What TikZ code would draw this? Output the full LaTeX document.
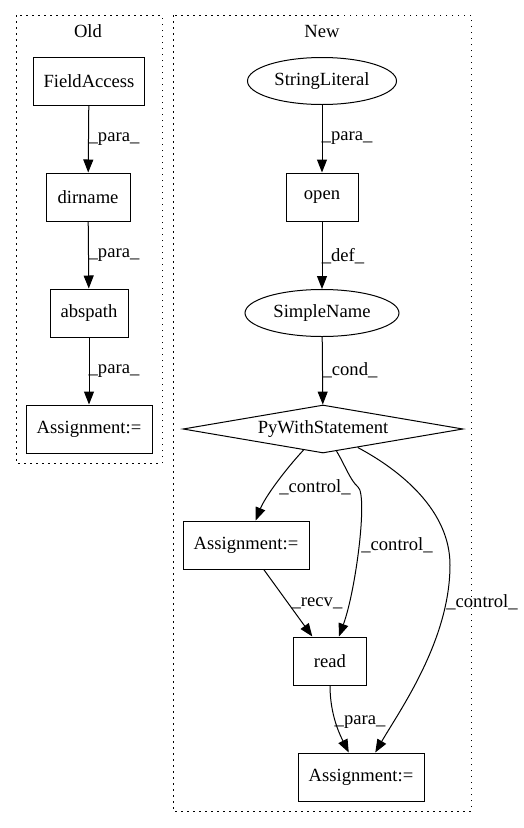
\documentclass[tikz,border=0pt]{standalone}
\usepackage{fontspec}
\setmainfont{Liberation Serif}
\usetikzlibrary{arrows.meta,shapes.geometric}
\begin{document}
\begin{tikzpicture}[x=1pt,y=-1pt,
  every node/.style={font=\fontsize{18.6}{22}\selectfont},
  box/.style={draw,line width=1pt,rectangle,minimum height=48pt,inner sep=0pt},
  oval/.style={draw,line width=1pt,ellipse,minimum height=47pt,inner sep=0pt},
  arr/.style={line width=1pt,-{Triangle[length=13pt,width=10pt]}},
  lbl/.style={inner sep=0pt},
  cluster/.style={line width=1pt,dash pattern=on 1.5pt off 4.5pt}]
\useasboundingbox (0,0) rectangle (523,828);
% clusters
\draw[cluster] (16,15) rectangle (162,463);
\draw[cluster] (173,15) rectangle (471,811);
\node[lbl] (told) at (88,31) {Old};
\node[lbl] (tnew) at (322,31) {New};
% Old nodes
\node[box,minimum width=111pt] (fa) at (89,81) {FieldAccess};
\node[box,minimum width=84pt] (dn) at (88,197) {dirname};
\node[box,minimum width=78pt] (ap) at (89,313) {abspath};
\node[box,minimum width=126pt] (oa) at (89,429) {Assignment:=};
\draw[arr] (fa) -- (dn);
\draw[arr] (dn) -- (ap);
\draw[arr] (ap) -- (oa);
\node[lbl] (l1) at (114,139) {\_para\_};
\node[lbl] (l2) at (114,255) {\_para\_};
\node[lbl] (l3) at (114,371) {\_para\_};
% New nodes
\node[oval,minimum width=149pt] (sl) at (322,81) {StringLiteral};
\node[box,minimum width=72pt] (op) at (322,197) {open};
\node[oval,minimum width=154pt] (sn) at (322,313) {SimpleName};
\node[draw,line width=1pt,diamond,aspect=5.9,minimum width=280pt,minimum height=48pt,inner sep=0pt] (pw) at (323,429) {PyWithStatement};
\node[box,minimum width=126pt] (am) at (246,545) {Assignment:=};
\node[box,minimum width=73pt] (rd) at (330,661) {read};
\node[box,minimum width=126pt] (ab) at (361,777) {Assignment:=};
\draw[arr] (sl) -- (op);
\draw[arr] (op) -- (sn);
\draw[arr] (sn) -- (pw);
\node[lbl] (l4) at (347,138) {\_para\_};
\node[lbl] (l5) at (343,256) {\_def\_};
\node[lbl] (l6) at (350,370) {\_cond\_};
\draw[arr] (pw) .. controls (285,470) and (265,497) .. (am);
\draw[arr] (pw) .. controls (345,465) and (350,480) .. (358,487)
  .. controls (368,495) and (356,590) .. (rd);
\draw[arr] (pw) .. controls (400,470) and (450,510) .. (450,565)
  .. controls (450,640) and (400,710) .. (ab);
\draw[arr] (am) -- (rd);
\draw[arr] (rd) .. controls (330,715) and (340,735) .. (ab);
\node[lbl] (l7) at (315,487) {\_control\_};
\node[lbl] (l8) at (397,545) {\_control\_};
\node[lbl] (l9) at (482,602) {\_control\_};
\node[lbl] (l10) at (317,603) {\_recv\_};
\node[lbl] (l11) at (360,722) {\_para\_};
\end{tikzpicture}
\end{document}
